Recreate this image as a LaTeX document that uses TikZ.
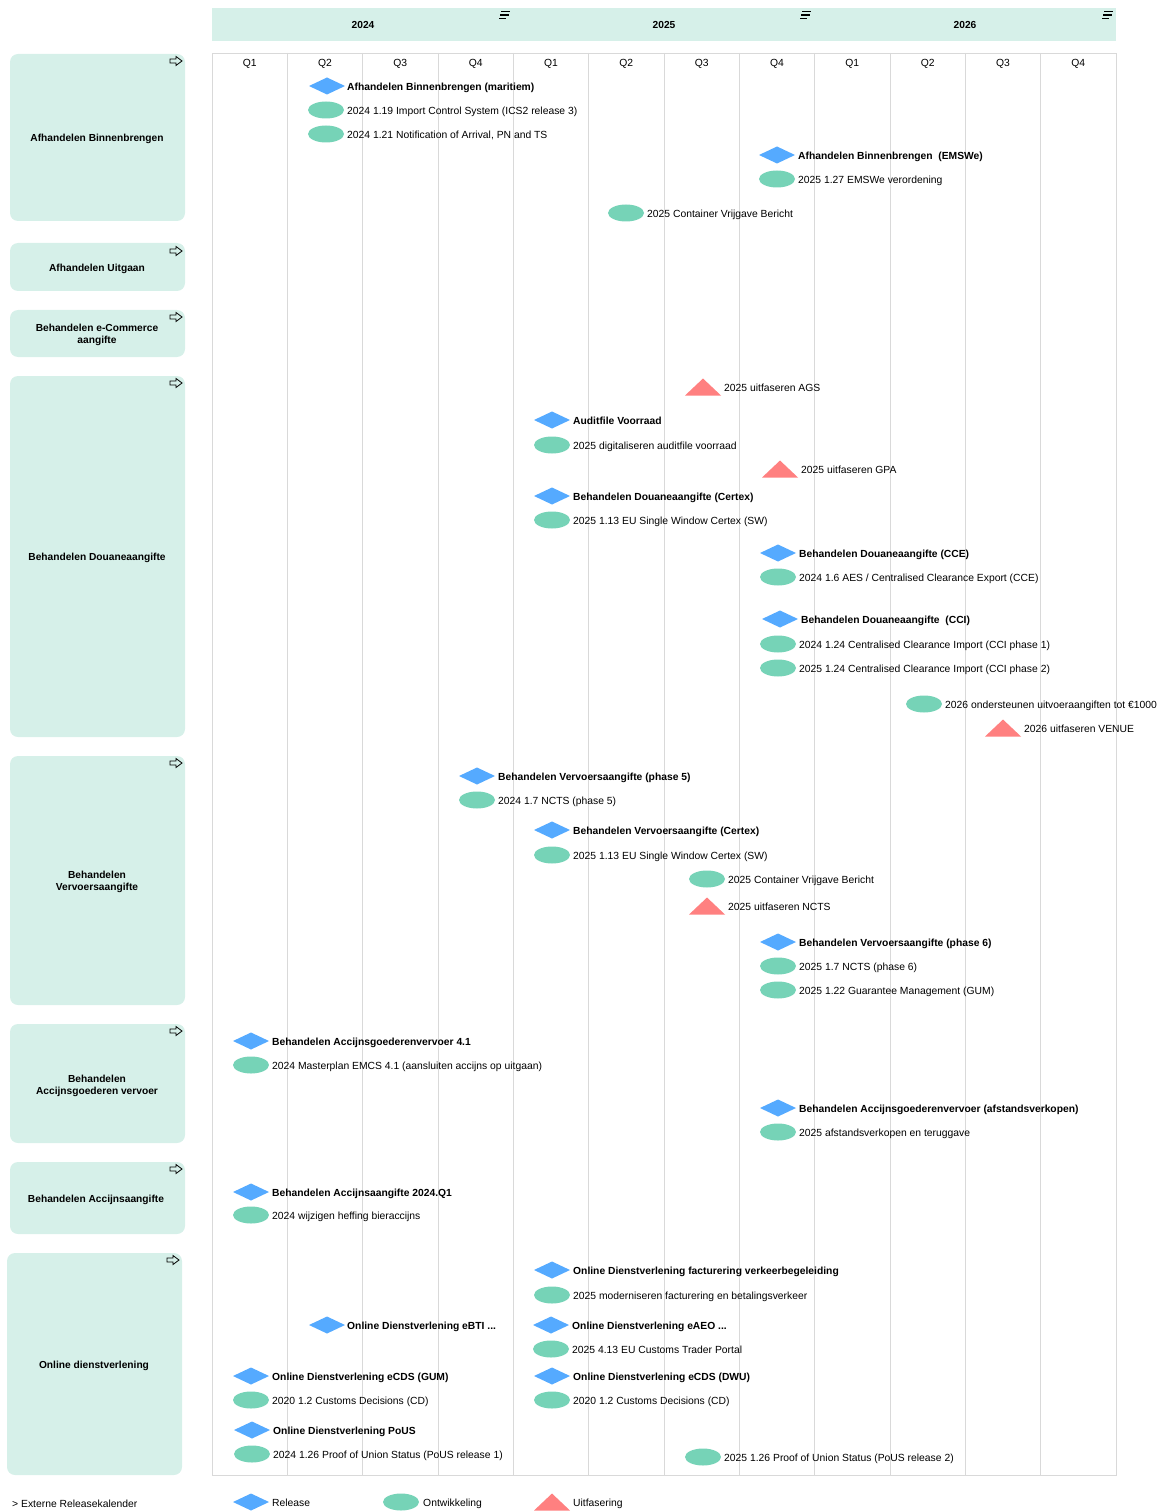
\documentclass[tikz,border=0pt]{standalone}
\usepackage{fontspec}
\setmainfont{Liberation Sans}
\usetikzlibrary{shapes.geometric}
\definecolor{mint}{RGB}{214,240,233}
\definecolor{relblue}{RGB}{85,170,255}
\definecolor{devgreen}{RGB}{118,211,183}
\definecolor{outred}{RGB}{255,128,128}
\definecolor{gridgray}{RGB}{217,217,217}
\newcommand\relm[2]{\fill[relblue] (#1-18,#2) -- (#1,#2-8.5) -- (#1+18,#2) -- (#1,#2+8.5) -- cycle;}
\newcommand\devm[2]{\fill[devgreen] (#1,#2) ellipse [x radius=18, y radius=8.5];}
\newcommand\outm[2]{\fill[outred] (#1-18,#2+8.5) -- (#1,#2-8.5) -- (#1+18,#2+8.5) -- cycle;}
\newcommand\lanearrow[2]{\draw[line width=0.8pt,line join=miter] (#1-6,#2-2) -- (#1,#2-2) -- (#1,#2-4.5) -- (#1+6,#2) -- (#1,#2+4.5) -- (#1,#2+2) -- (#1-6,#2+2) -- cycle;}
\newcommand\menuicon[2]{\draw[line width=1.3pt] (#1-3,#2-3.5) -- (#1+6,#2-3.5) (#1-4,#2) -- (#1+5,#2) (#1-5,#2+3.5) -- (#1+2,#2+3.5);}
\begin{document}
\begin{tikzpicture}[x=1pt,y=-1pt,
  itm/.style={anchor=west,inner sep=0pt,text height=8pt,text depth=1pt,yshift=-1pt,font=\fontsize{10.35}{12}\selectfont},
  itmb/.style={itm,font=\fontsize{10.3}{12}\selectfont\bfseries},
  lane/.style={draw=none,fill=mint,rounded corners=8pt},
  lanelbl/.style={align=center,font=\fontsize{10.2}{12}\selectfont\bfseries,inner sep=0pt,yshift=-1.5pt},
  qlbl/.style={inner sep=0pt,text height=8pt,text depth=1pt,yshift=-1pt,font=\fontsize{10.35}{12}\selectfont},
  yrlbl/.style={inner sep=0pt,yshift=-1pt,font=\fontsize{10.2}{12}\selectfont\bfseries}]
\useasboundingbox (0,0) rectangle (1158,1511);
% header
\fill[mint] (212,8) rectangle (1116,41);
\node[yrlbl] (y2024) at (363,24) {2024};
\node[yrlbl] (y2025) at (664,24) {2025};
\node[yrlbl] (y2026) at (965,24) {2026};
\menuicon{504}{15}
\menuicon{805}{15}
\menuicon{1107}{15}
% grid
\foreach \i in {1,...,11} {\draw[gridgray,line width=0.8pt] (212+\i*75.333,53) -- (212+\i*75.333,1475);}
\draw[gridgray,line width=0.8pt] (212,53) rectangle (1116,1475);
\foreach \q [count=\i from 0] in {Q1,Q2,Q3,Q4,Q1,Q2,Q3,Q4,Q1,Q2,Q3,Q4} {\node[qlbl] (q\i) at (249.67+\i*75.333,62) {\q};}
% lanes
\fill[lane] (10,54) rectangle (185,221);
\node[lanelbl] (l1) at (97,137) {Afhandelen Binnenbrengen};
\lanearrow{176}{61}
\fill[lane] (10,243) rectangle (185,291);
\node[lanelbl] (l2) at (97,267) {Afhandelen Uitgaan};
\lanearrow{176}{251}
\fill[lane] (10,310) rectangle (185,357);
\node[lanelbl] (l3) at (97,333) {Behandelen e-Commerce\\aangifte};
\lanearrow{176}{317}
\fill[lane] (10,376) rectangle (185,737);
\node[lanelbl] (l4) at (97,556) {Behandelen Douaneaangifte};
\lanearrow{176}{383}
\fill[lane] (10,756) rectangle (185,1005);
\node[lanelbl] (l5) at (97,880) {Behandelen\\Vervoersaangifte};
\lanearrow{176}{763}
\fill[lane] (10,1024) rectangle (185,1143);
\node[lanelbl] (l6) at (97,1084) {Behandelen\\Accijnsgoederen vervoer};
\lanearrow{176}{1031}
\fill[lane] (10,1162) rectangle (185,1234);
\node[lanelbl] (l7) at (96,1198) {Behandelen Accijnsaangifte};
\lanearrow{176}{1169}
\fill[lane] (7,1253) rectangle (182,1475);
\node[lanelbl] (l8) at (94,1364) {Online dienstverlening};
\lanearrow{173}{1260}
% lane 1
\relm{327}{86} \node[itmb] (a1) at (347,86) {Afhandelen Binnenbrengen (maritiem)};
\devm{326}{110} \node[itm] (a2) at (347,110) {2024 1.19 Import Control System (ICS2 release 3)};
\devm{326}{134} \node[itm] (a3) at (347,134) {2024 1.21 Notification of Arrival, PN and TS};
\relm{777}{155} \node[itmb] (a4) at (798,155) {Afhandelen Binnenbrengen \ (EMSWe)};
\devm{777}{179} \node[itm] (a5) at (798,179) {2025 1.27 EMSWe verordening};
\devm{626}{213} \node[itm] (a6) at (647,213) {2025 Container Vrijgave Bericht};
% lane 4
\outm{703}{387} \node[itm] (d1) at (724,387) {2025 uitfaseren AGS};
\relm{552}{420} \node[itmb] (d2) at (573,420) {Auditfile Voorraad};
\devm{552}{445} \node[itm] (d3) at (573,445) {2025 digitaliseren auditfile voorraad};
\outm{780}{469} \node[itm] (d4) at (801,469) {2025 uitfaseren GPA};
\relm{552}{496} \node[itmb] (d5) at (573,496) {Behandelen Douaneaangifte (Certex)};
\devm{552}{520} \node[itm] (d6) at (573,520) {2025 1.13 EU Single Window Certex (SW)};
\relm{778}{553} \node[itmb] (d7) at (799,553) {Behandelen Douaneaangifte (CCE)};
\devm{778}{577} \node[itm] (d8) at (799,577) {2024 1.6 AES / Centralised Clearance Export (CCE)};
\relm{780}{619} \node[itmb] (d9) at (801,619) {Behandelen Douaneaangifte \ (CCI)};
\devm{778}{644} \node[itm] (d10) at (799,644) {2024 1.24 Centralised Clearance Import (CCI phase 1)};
\devm{778}{668} \node[itm] (d11) at (799,668) {2025 1.24 Centralised Clearance Import (CCI phase 2)};
\devm{924}{704} \node[itm] (d12) at (945,704) {2026 ondersteunen uitvoeraangiften tot €1000};
\outm{1003}{728} \node[itm] (d13) at (1024,728) {2026 uitfaseren VENUE};
% lane 5
\relm{477}{776} \node[itmb] (v1) at (498,776) {Behandelen Vervoersaangifte (phase 5)};
\devm{477}{800} \node[itm] (v2) at (498,800) {2024 1.7 NCTS (phase 5)};
\relm{552}{830} \node[itmb] (v3) at (573,830) {Behandelen Vervoersaangifte (Certex)};
\devm{552}{855} \node[itm] (v4) at (573,855) {2025 1.13 EU Single Window Certex (SW)};
\devm{707}{879} \node[itm] (v5) at (728,879) {2025 Container Vrijgave Bericht};
\outm{707}{906} \node[itm] (v6) at (728,906) {2025 uitfaseren NCTS};
\relm{778}{942} \node[itmb] (v7) at (799,942) {Behandelen Vervoersaangifte (phase 6)};
\devm{778}{966} \node[itm] (v8) at (799,966) {2025 1.7 NCTS (phase 6)};
\devm{778}{990} \node[itm] (v9) at (799,990) {2025 1.22 Guarantee Management (GUM)};
% lane 6
\relm{251}{1041} \node[itmb] (g1) at (272,1041) {Behandelen Accijnsgoederenvervoer 4.1};
\devm{251}{1065} \node[itm] (g2) at (272,1065) {2024 Masterplan EMCS 4.1 (aansluiten accijns op uitgaan)};
\relm{778}{1108} \node[itmb] (g3) at (799,1108) {Behandelen Accijnsgoederenvervoer (afstandsverkopen)};
\devm{778}{1132} \node[itm] (g4) at (799,1132) {2025 afstandsverkopen en teruggave};
% lane 7
\relm{251}{1192} \node[itmb] (k1) at (272,1192) {Behandelen Accijnsaangifte 2024.Q1};
\devm{251}{1215} \node[itm] (k2) at (272,1215) {2024 wijzigen heffing bieraccijns};
% lane 8
\relm{552}{1270} \node[itmb] (o1) at (573,1270) {Online Dienstverlening facturering verkeerbegeleiding};
\devm{552}{1295} \node[itm] (o2) at (573,1295) {2025 moderniseren facturering en betalingsverkeer};
\relm{327}{1325} \node[itmb] (o3) at (347,1325) {Online Dienstverlening eBTI ...};
\relm{551}{1325} \node[itmb] (o4) at (572,1325) {Online Dienstverlening eAEO ...};
\devm{551}{1349} \node[itm] (o5) at (572,1349) {2025 4.13 EU Customs Trader Portal};
\relm{251}{1376} \node[itmb] (o6) at (272,1376) {Online Dienstverlening eCDS (GUM)};
\devm{251}{1400} \node[itm] (o7) at (272,1400) {2020 1.2 Customs Decisions (CD)};
\relm{552}{1376} \node[itmb] (o8) at (573,1376) {Online Dienstverlening eCDS (DWU)};
\devm{552}{1400} \node[itm] (o9) at (573,1400) {2020 1.2 Customs Decisions (CD)};
\relm{252}{1430} \node[itmb] (o10) at (273,1430) {Online Dienstverlening PoUS};
\devm{252}{1454} \node[itm] (o11) at (273,1454) {2024 1.26 Proof of Union Status (PoUS release 1)};
\devm{703}{1457} \node[itm] (o12) at (724,1457) {2025 1.26 Proof of Union Status (PoUS release 2)};
% legend
\node[itm] (ext) at (12,1503) {> Externe Releasekalender};
\relm{251}{1502} \node[itm] (lg1) at (272,1502) {Release};
\devm{401}{1502} \node[itm] (lg2) at (423,1502) {Ontwikkeling};
\outm{552}{1502} \node[itm] (lg3) at (573,1502) {Uitfasering};
\end{tikzpicture}
\end{document}
